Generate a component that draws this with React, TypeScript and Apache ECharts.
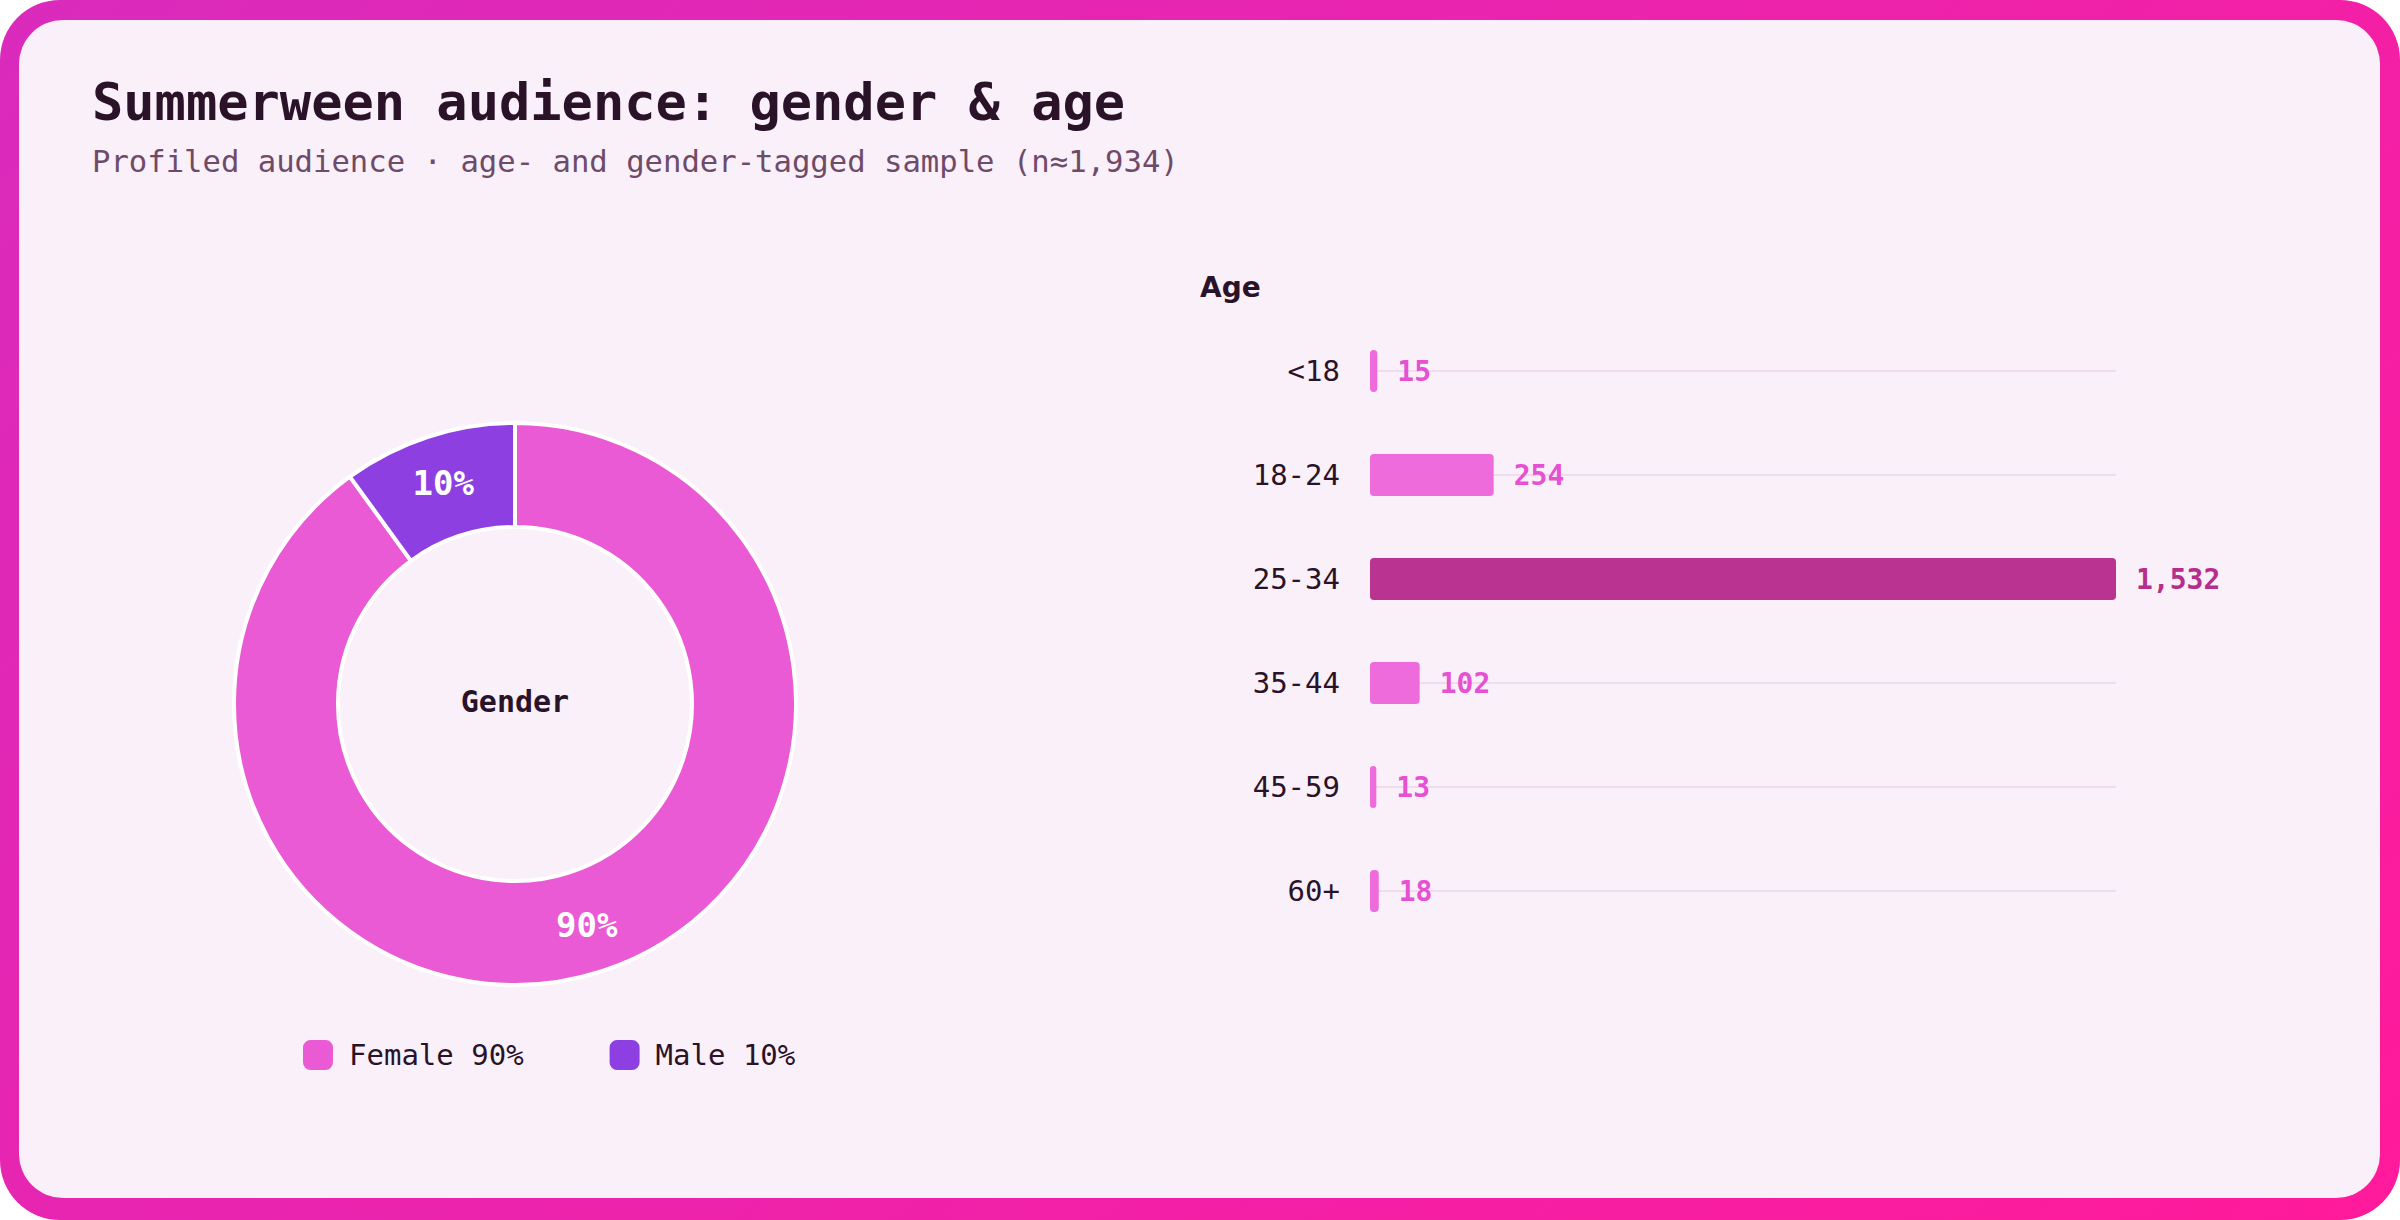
import { useEffect, useRef } from 'react';
import * as echarts from 'echarts';

const MONO = '"DejaVu Sans Mono", monospace';
const SANS = '"DejaVu Sans", sans-serif';

const genderNames = ['Female', 'Male'];
const genderShares = [90, 10];
const genderColors = ['#ea5ad5', '#8e3fe1'];

const ageCategories = ['<18', '18-24', '25-34', '35-44', '45-59', '60+'];
const ageCounts = [15, 254, 1532, 102, 13, 18];

const PINK = '#ee6bdc';
const PINK_TEXT = '#e650d3';
const DARK = '#bb3391';
const DARK_TEXT = '#b62e8c';
const INK = '#2a1228';

export default function App() {
  const ref = useRef<HTMLDivElement>(null);

  useEffect(() => {
    document.body.style.margin = '0';
    if (!ref.current) return;
    const chart = echarts.init(ref.current, undefined, { renderer: 'svg' });

    const maxCount = Math.max(...ageCounts);
    const barData = ageCounts.map((v) => {
      const top = v === maxCount;
      return {
        value: v,
        itemStyle: { color: top ? DARK : PINK, borderRadius: 4 },
        label: { color: top ? DARK_TEXT : PINK_TEXT },
      };
    });

    // faint guide line through the middle of every row
    const guides = ageCategories.map((c) => [
      { coord: [0, c] },
      { coord: [maxCount, c] },
    ]);

    const option: echarts.EChartsOption = {
      animation: false,
      graphic: [
        {
          type: 'text',
          left: 92,
          top: 76,
          style: {
            text: 'Summerween audience: gender & age',
            font: `bold 52px ${MONO}`,
            fill: INK,
          },
        },
        {
          type: 'text',
          left: 92,
          top: 146,
          style: {
            text: 'Profiled audience · age- and gender-tagged sample (n≈1,934)',
            font: `30.6px ${MONO}`,
            fill: '#6e4b68',
          },
        },
        {
          type: 'text',
          left: 1200,
          top: 273,
          style: {
            text: 'Age',
            font: `bold 28px ${SANS}`,
            fill: INK,
          },
        },
        {
          type: 'text',
          x: 515,
          y: 701,
          style: {
            text: 'Gender',
            font: `bold 30px ${MONO}`,
            fill: INK,
            align: 'center',
            verticalAlign: 'middle',
          },
        },
      ],
      legend: {
        data: genderNames,
        left: 303,
        top: 1040,
        padding: 0,
        itemWidth: 30,
        itemHeight: 30,
        itemGap: 86,
        icon: 'roundRect',
        itemStyle: { borderWidth: 0 },
        textStyle: {
          fontFamily: MONO,
          fontSize: 29,
          color: INK,
          padding: [0, 0, 0, 11],
        },
        formatter: (name: string) => {
          const i = genderNames.indexOf(name);
          return `${name} ${genderShares[i]}%`;
        },
      },
      grid: {
        left: 1370,
        top: 319,
        width: 746,
        height: 624,
      },
      xAxis: {
        type: 'value',
        min: 0,
        max: maxCount,
        show: false,
      },
      yAxis: {
        type: 'category',
        data: ageCategories,
        inverse: true,
        axisLine: { show: false },
        axisTick: { show: false },
        splitLine: { show: false },
        axisLabel: {
          margin: 30,
          fontFamily: MONO,
          fontSize: 29,
          color: INK,
        },
      },
      series: [
        {
          type: 'pie',
          center: [515, 704],
          radius: [177, 281],
          startAngle: 90,
          clockwise: true,
          avoidLabelOverlap: false,
          itemStyle: { borderColor: '#ffffff', borderWidth: 4 },
          label: {
            show: true,
            position: 'inside',
            formatter: '{d}%',
            color: '#ffffff',
            fontFamily: MONO,
            fontWeight: 'bold',
            fontSize: 34,
          },
          labelLine: { show: false },
          emphasis: { disabled: true },
          data: genderNames.map((n, i) => ({
            name: n,
            value: genderShares[i],
            itemStyle: { color: genderColors[i] },
          })),
        },
        {
          type: 'bar',
          barWidth: 42,
          data: barData,
          label: {
            show: true,
            position: 'right',
            distance: 20,
            fontFamily: MONO,
            fontWeight: 'bold',
            fontSize: 28,
            formatter: (p: any) => Number(p.value).toLocaleString('en-US'),
          },
          markLine: {
            silent: true,
            z: 1,
            symbol: ['none', 'none'],
            label: { show: false },
            lineStyle: { color: '#f0dcee', width: 2, type: 'solid' },
            emphasis: { disabled: true },
            data: guides as any,
          },
        },
      ],
    };

    chart.setOption(option);
    return () => chart.dispose();
  }, []);

  return (
    <div
      style={{
        position: 'fixed',
        left: 0,
        top: 0,
        width: 2400,
        height: 1220,
        borderRadius: 60,
        background: 'linear-gradient(135deg, #da2bbd 0%, #ff1a9a 100%)',
      }}
    >
      <div
        style={{
          position: 'absolute',
          left: 19,
          top: 20,
          right: 20,
          bottom: 22,
          borderRadius: 44,
          background: '#faf0fa',
        }}
      />
      <div
        ref={ref}
        style={{ position: 'absolute', left: 0, top: 0, width: 2400, height: 1220 }}
      />
    </div>
  );
}
